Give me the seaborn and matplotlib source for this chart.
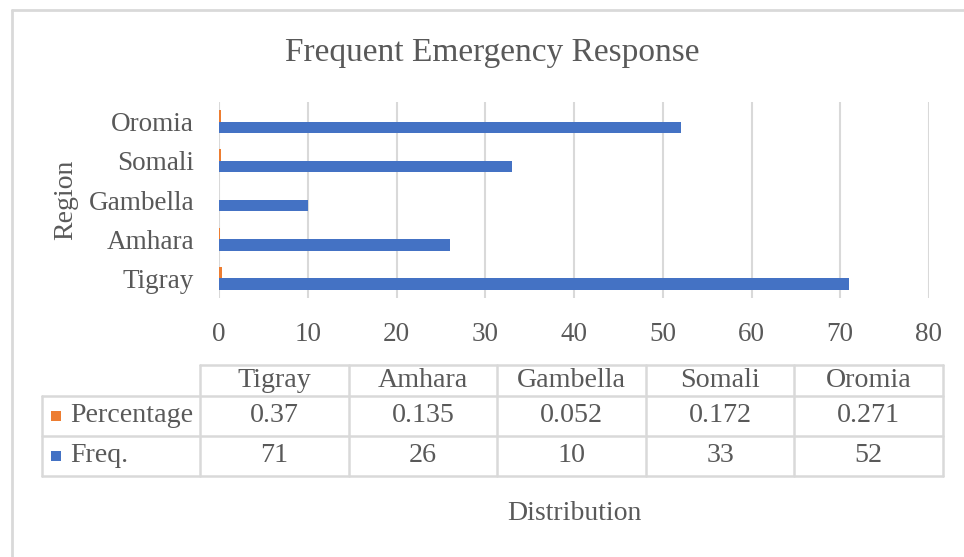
import matplotlib
matplotlib.use("Agg")
import matplotlib.pyplot as plt
from matplotlib.lines import Line2D
from matplotlib.patches import Rectangle
import seaborn as sns
import pandas as pd

# Data
regions = ["Tigray", "Amhara", "Gambella", "Somali", "Oromia"]
freq = [71, 26, 10, 33, 52]
percentage = [0.37, 0.135, 0.052, 0.172, 0.271]
percentage_labels = ["0.37", "0.135", "0.052", "0.172", "0.271"]
series_names = ["Percentage", "Freq."]
x_ticks = [0, 10, 20, 30, 40, 50, 60, 70, 80]

BLUE = "#4472C4"
ORANGE = "#ED7D31"
GRID = "#D9D9D9"
TEXT = "#595959"

sns.set_theme(style="white")
plt.rcParams["font.family"] = ["Liberation Serif", "DejaVu Serif"]

W, H = 964, 557
fig = plt.figure(figsize=(W / 100, H / 100), dpi=100)


def fx(px):
    return px / W


def fy(py):
    return 1 - py / H


# Long-form table for seaborn
df = pd.DataFrame({
    "Region": regions * 2,
    "Series": [series_names[0]] * len(regions) + [series_names[1]] * len(regions),
    "Value": percentage + freq,
})

ax = fig.add_axes([fx(219), fy(298), fx(929) - fx(219), fy(102) - fy(298)])
sns.barplot(
    data=df, y="Region", x="Value", hue="Series",
    order=regions[::-1], hue_order=series_names,
    palette=[ORANGE, BLUE], width=0.58, orient="h",
    legend=False, ax=ax, saturation=1, linewidth=0,
)
ax.set_xlim(0, 80)
ax.set_ylim(4.5, -0.5)
ax.set_xticks(x_ticks)
ax.xaxis.grid(True, color=GRID, linewidth=1.5)
ax.set_axisbelow(True)
for s in ax.spines.values():
    s.set_visible(False)
ax.tick_params(axis="both", length=0, labelsize=19.5, colors=TEXT)
ax.tick_params(axis="y", pad=18)
ax.tick_params(axis="x", pad=17)
ax.set_xlabel("")
ax.set_ylabel("")

# Title and axis titles
fig.text(fx(492), fy(53), "Frequent Emergency Response", ha="center", va="center",
         fontsize=24, color=TEXT)
fig.text(fx(66), fy(200), "Region", ha="center", va="center", rotation=90,
         fontsize=20, color=TEXT)
fig.text(fx(574), fy(513), "Distribution", ha="center", va="center",
         fontsize=20, color=TEXT)

# Chart area border
fig.add_artist(Line2D([fx(12), fx(964)], [fy(10), fy(10)], color=GRID, lw=2,
                      transform=fig.transFigure))
fig.add_artist(Line2D([fx(12), fx(12)], [fy(10), fy(557)], color=GRID, lw=2,
                      transform=fig.transFigure))

# Data table beneath the chart
col_edges = [200, 349, 497, 646, 794, 943]
left_edge = 42
row_edges = [365, 396, 436, 476]


def hline(x0, x1, y):
    fig.add_artist(Line2D([fx(x0), fx(x1)], [fy(y), fy(y)], color=GRID, lw=1.8,
                          transform=fig.transFigure))


def vline(x, y0, y1):
    fig.add_artist(Line2D([fx(x), fx(x)], [fy(y0), fy(y1)], color=GRID, lw=1.8,
                          transform=fig.transFigure))


hline(col_edges[0], col_edges[-1], row_edges[0])
for y in row_edges[1:]:
    hline(left_edge, col_edges[-1], y)
vline(left_edge, row_edges[1], row_edges[-1])
for x in col_edges:
    vline(x, row_edges[0], row_edges[-1])

centers = [(col_edges[i] + col_edges[i + 1]) / 2 for i in range(len(regions))]
row_mid = [(row_edges[i] + row_edges[i + 1]) / 2 for i in range(3)]

TABLE_FS = 20.2
for cx, name in zip(centers, regions):
    fig.text(fx(cx), fy(row_mid[0]), name, ha="center", va="center",
             fontsize=TABLE_FS, color=TEXT)
for cx, p in zip(centers, percentage_labels):
    fig.text(fx(cx), fy(row_mid[1]), p, ha="center", va="center",
             fontsize=TABLE_FS, color=TEXT)
for cx, f in zip(centers, freq):
    fig.text(fx(cx), fy(row_mid[2]), str(f), ha="center", va="center",
             fontsize=TABLE_FS, color=TEXT)

# Legend keys in the table's row headers
for ym, name, col in zip(row_mid[1:], series_names, [ORANGE, BLUE]):
    fig.add_artist(Rectangle((fx(50.5), fy(ym + 5)), fx(10), fy(0) - fy(10),
                             facecolor=col, edgecolor="none",
                             transform=fig.transFigure))
    fig.text(fx(70), fy(ym), name, ha="left", va="center", fontsize=TABLE_FS, color=TEXT)

fig.savefig("out.png", dpi=100, facecolor="white")
